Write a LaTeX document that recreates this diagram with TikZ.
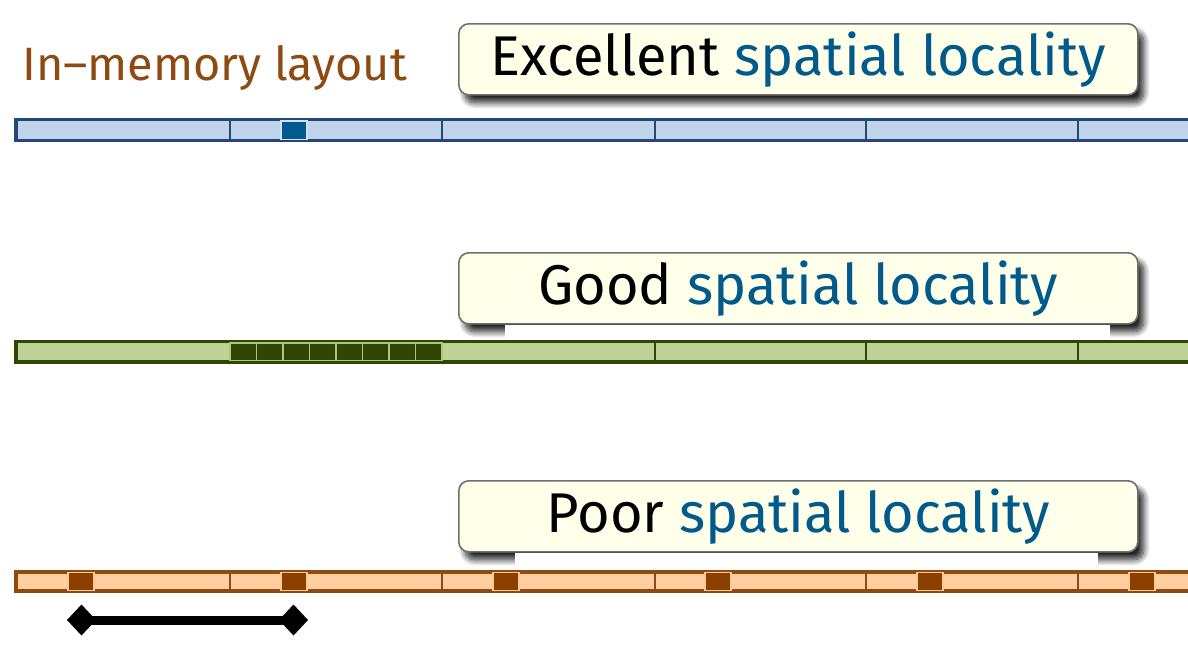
\documentclass[tikz,border=0pt]{standalone}
\usepackage{fontspec}
\setmainfont{Fira Sans}
\usetikzlibrary{shadows.blur,arrows.meta}
\definecolor{brownT}{HTML}{8E4A10}
\definecolor{blueT}{HTML}{005A8C}
\definecolor{boxFill}{HTML}{FFFFEA}
\definecolor{boxDraw}{HTML}{707070}
\definecolor{bFill}{HTML}{BFD3EA}
\definecolor{bDraw}{HTML}{234878}
\definecolor{bSq}{HTML}{005A8F}
\definecolor{bSqD}{HTML}{D0E2F4}
\definecolor{gFill}{HTML}{BCD296}
\definecolor{gDraw}{HTML}{2E4800}
\definecolor{gSq}{HTML}{2F4500}
\definecolor{gSqD}{HTML}{A8C880}
\definecolor{oFill}{HTML}{FFCFA0}
\definecolor{oDraw}{HTML}{8E4A10}
\definecolor{oSq}{HTML}{8B4000}
\definecolor{oSqD}{HTML}{FFC898}
\tikzset{
  callout/.style={draw=boxDraw, line width=1.6pt, fill=boxFill, rounded corners=10pt,
    minimum width=679pt, minimum height=71pt, anchor=north west, inner sep=0pt,
    font=\fontsize{56}{60}\selectfont,
    blur shadow={shadow xshift=6pt, shadow yshift=-8pt, shadow blur radius=6pt,
      shadow blur steps=10, shadow opacity=85}},
  barbox/.style={line width=3.2pt},
  divider/.style={line width=2.8pt},
  cell/.style={line width=1.3pt},
}
\begin{document}
\begin{tikzpicture}[x=1pt,y=-1pt]
\useasboundingbox (0,0) rectangle (1188,646);
\clip (0,0) rectangle (1188,646);
% title
\node[anchor=base west, text=brownT, inner sep=0pt, font=\fontsize{46.8}{50}\selectfont] (title) at (22,80) {In–memory layout};
% callouts
\node[callout] (exc) at (458,23) {Excellent \textcolor{blueT}{spatial locality}};
\node[callout] (good) at (458,252) {Good \textcolor{blueT}{spatial locality}};
\fill[white] (505,325) rectangle (1110,339);
\node[callout] (poor) at (458,480) {Poor \textcolor{blueT}{spatial locality}};
\fill[white] (515,553) rectangle (1098,569);
% blue bar
\draw[barbox, draw=bDraw, fill=bFill] (16,119.5) rectangle (1200,140.5);
\foreach \x in {230,442,655,866,1078} \draw[divider, draw=bDraw] (\x,119.5) -- (\x,140.5);
\draw[cell, draw=bSqD, fill=bSq] (281,121) rectangle (307,139.5);
% green bar
\draw[barbox, draw=gDraw, fill=gFill] (16,341.5) rectangle (1200,362);
\foreach \x in {230,442,655,866,1078} \draw[divider, draw=gDraw] (\x,341.5) -- (\x,362);
\foreach \i in {0,...,7} \draw[cell, draw=gSqD, fill=gSq] (230+26.5*\i,343) rectangle (230+26.5*\i+26.5,360.5);
% orange bar
\draw[barbox, draw=oDraw, fill=oFill] (16,572) rectangle (1200,591);
\foreach \x in {230,442,655,866,1078} \draw[divider, draw=oDraw] (\x,572) -- (\x,591);
\foreach \x in {68,281,493,705,917,1129} \draw[cell, draw=oSqD, fill=oSq] (\x,572.5) rectangle (\x+26,590.5);
% stride arrow
\coordinate (s1) at (67,620);
\coordinate (s2) at (308,620);
\draw[line width=9pt, {Diamond[length=29pt,width=31pt]}-{Diamond[length=29pt,width=31pt]}] (s1) -- (s2);
\end{tikzpicture}
\end{document}
